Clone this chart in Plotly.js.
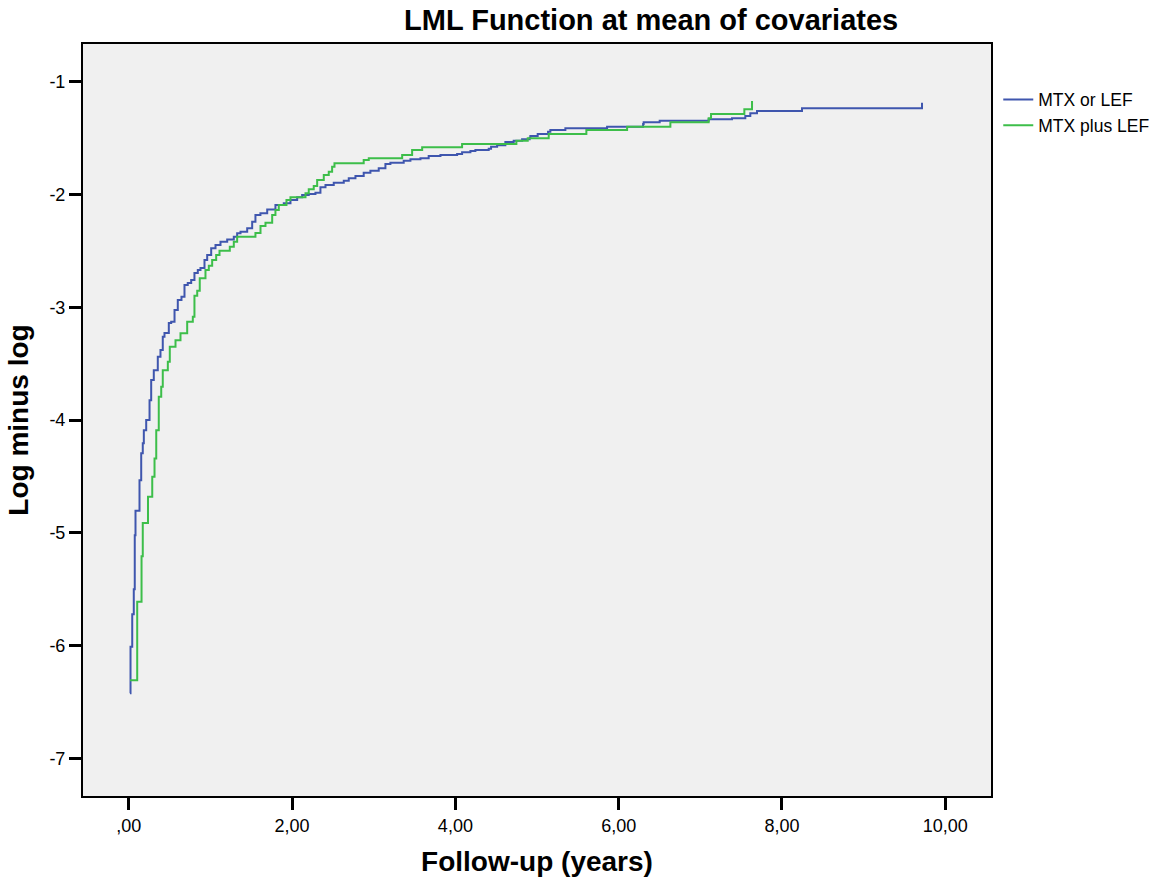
<!DOCTYPE html>
<html>
<head>
<meta charset="utf-8">
<script src="https://cdn.plot.ly/plotly-3.0.1.min.js"></script>
<style>html,body{margin:0;padding:0;background:#fff;}#chart{width:1169px;height:884px;}</style>
</head>
<body>
<div id="chart"></div>
<script>
// Follow-up time (years) at each step and log-minus-log value from that time on
const seriesNames = ["MTX or LEF", "MTX plus LEF"];

const mtxOrLefX = [0.015, 0.021, 0.042, 0.061, 0.073, 0.082, 0.131, 0.152, 0.171, 0.184, 0.213, 0.254, 0.274, 0.306, 0.355, 0.388, 0.416, 0.437, 0.490, 0.519, 0.560, 0.600, 0.645, 0.682, 0.722, 0.764, 0.804, 0.845, 0.878, 0.927, 0.960, 1.009, 1.062, 1.123, 1.205, 1.286, 1.327, 1.368, 1.450, 1.511, 1.551, 1.612, 1.695, 1.796, 1.898, 1.980, 2.062, 2.123, 2.204, 2.286, 2.347, 2.409, 2.510, 2.633, 2.694, 2.776, 2.877, 2.959, 3.061, 3.143, 3.204, 3.367, 3.449, 3.572, 3.673, 3.817, 4.021, 4.082, 4.184, 4.245, 4.408, 4.437, 4.511, 4.612, 4.714, 4.817, 4.910, 4.918, 5.008, 5.135, 5.163, 5.347, 5.858, 6.299, 6.306, 6.502, 7.102, 7.388, 7.551, 7.612, 7.694, 8.245, 9.715, 9.715];
const mtxOrLefY = [-6.421, -6.010, -5.720, -5.499, -5.020, -4.804, -4.532, -4.293, -4.204, -4.089, -4.000, -3.823, -3.645, -3.557, -3.439, -3.379, -3.261, -3.228, -3.140, -3.128, -3.024, -2.936, -2.907, -2.803, -2.785, -2.758, -2.696, -2.670, -2.652, -2.581, -2.537, -2.477, -2.448, -2.419, -2.398, -2.374, -2.344, -2.330, -2.300, -2.241, -2.182, -2.167, -2.132, -2.093, -2.078, -2.049, -2.025, -2.005, -1.996, -1.984, -1.936, -1.916, -1.896, -1.878, -1.857, -1.836, -1.807, -1.789, -1.768, -1.730, -1.718, -1.701, -1.688, -1.679, -1.659, -1.650, -1.641, -1.626, -1.615, -1.606, -1.594, -1.576, -1.564, -1.535, -1.523, -1.511, -1.497, -1.482, -1.464, -1.443, -1.428, -1.413, -1.399, -1.375, -1.360, -1.346, -1.333, -1.325, -1.304, -1.280, -1.260, -1.236, -1.236, -1.186];

const mtxPlusLefX = [0.015, 0.103, 0.156, 0.171, 0.235, 0.287, 0.315, 0.336, 0.367, 0.397, 0.416, 0.478, 0.502, 0.572, 0.633, 0.715, 0.784, 0.804, 0.838, 0.869, 0.939, 0.980, 1.021, 1.070, 1.111, 1.237, 1.286, 1.327, 1.551, 1.613, 1.674, 1.756, 1.796, 1.837, 1.931, 1.980, 2.164, 2.204, 2.265, 2.307, 2.388, 2.449, 2.490, 2.519, 2.877, 2.939, 3.348, 3.470, 3.593, 4.082, 4.747, 4.886, 5.143, 5.604, 6.103, 6.633, 7.102, 7.131, 7.539, 7.633, 7.633];
const mtxPlusLefY = [-6.305, -5.611, -5.206, -4.911, -4.680, -4.503, -4.340, -4.089, -3.793, -3.705, -3.557, -3.483, -3.350, -3.291, -3.231, -3.128, -3.084, -2.898, -2.853, -2.743, -2.670, -2.632, -2.581, -2.537, -2.499, -2.463, -2.419, -2.374, -2.342, -2.280, -2.250, -2.182, -2.138, -2.093, -2.049, -2.025, -1.990, -1.954, -1.925, -1.872, -1.827, -1.798, -1.754, -1.724, -1.694, -1.679, -1.650, -1.606, -1.582, -1.552, -1.523, -1.502, -1.464, -1.428, -1.399, -1.360, -1.325, -1.286, -1.245, -1.207, -1.171];

const xTickVals = [0, 2, 4, 6, 8, 10];
const xTickText = [",00", "2,00", "4,00", "6,00", "8,00", "10,00"];
const yTickVals = [-1, -2, -3, -4, -5, -6, -7];
const yTickText = ["-1", "-2", "-3", "-4", "-5", "-6", "-7"];

const FONT = "Liberation Sans, Arial, Helvetica, sans-serif";

const traces = [
  {x: mtxOrLefX, y: mtxOrLefY, name: seriesNames[0], type: "scatter", mode: "lines",
   line: {shape: "hv", color: "#3F56AE", width: 2}},
  {x: mtxPlusLefX, y: mtxPlusLefY, name: seriesNames[1], type: "scatter", mode: "lines",
   line: {shape: "hv", color: "#3DBE4A", width: 2}}
];

const axisCommon = {
  showline: true, mirror: true, linecolor: "#000", linewidth: 2,
  ticks: "outside", ticklen: 12, tickwidth: 3, tickcolor: "#000",
  showgrid: false, zeroline: false,
  tickfont: {family: FONT, size: 18, color: "#000"}
};

const layout = {
  width: 1169, height: 884,
  paper_bgcolor: "#ffffff", plot_bgcolor: "#F0F0F0",
  margin: {l: 83, r: 178, t: 44, b: 88},
  title: {text: "<b>LML Function at mean of covariates</b>", font: {family: FONT, size: 29, color: "#000"},
          xref: "container", x: 0.557, xanchor: "center", yref: "container", y: 0.977, yanchor: "middle"},
  xaxis: Object.assign({}, axisCommon, {
    range: [-0.561, 10.56], tickmode: "array", tickvals: xTickVals, ticktext: xTickText,
    title: {text: "<b>Follow-up (years)</b>", font: {family: FONT, size: 28, color: "#000"}, standoff: 17}
  }),
  yaxis: Object.assign({}, axisCommon, {
    range: [-7.332, -0.666], tickmode: "array", tickvals: yTickVals, ticktext: yTickText,
    title: {text: "<b>Log minus log</b>", font: {family: FONT, size: 28, color: "#000"}, standoff: 13}
  }),
  showlegend: true,
  legend: {x: 1.008, xanchor: "left", y: 0.95, yanchor: "top", bgcolor: "rgba(0,0,0,0)",
           font: {family: FONT, size: 17.5, color: "#000"}, tracegroupgap: 0, itemwidth: 30}
};

Plotly.newPlot("chart", traces, layout, {displayModeBar: false, staticPlot: true});
</script>
</body>
</html>
